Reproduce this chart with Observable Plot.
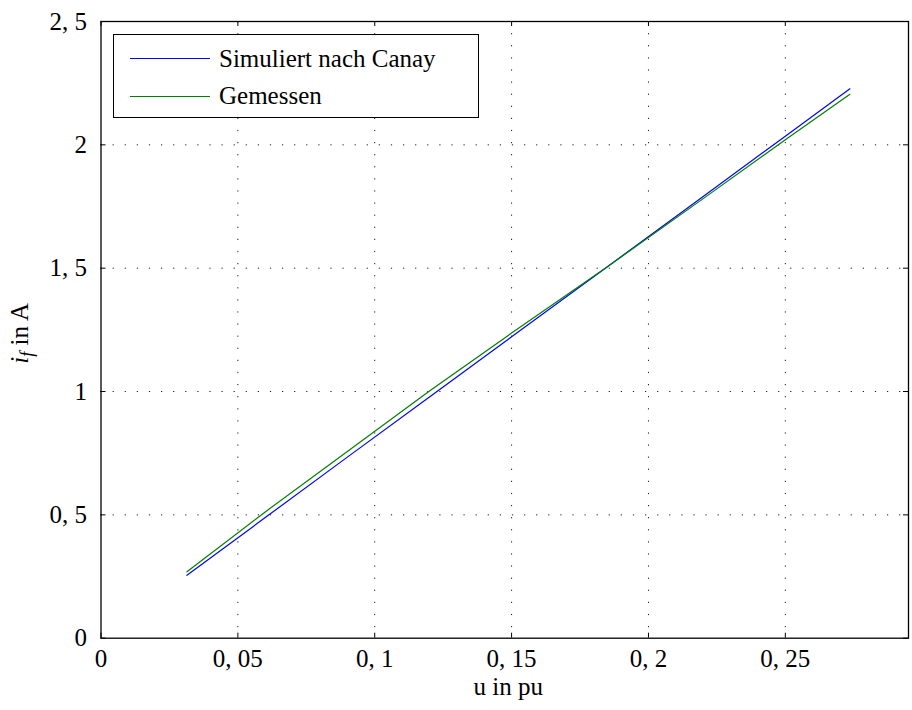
<!DOCTYPE html>
<html>
<head>
<meta charset="utf-8">
<script src="https://cdn.jsdelivr.net/npm/d3@7"></script>
<script src="https://cdn.jsdelivr.net/npm/@observablehq/plot@0.6"></script>
<style>
  body { margin: 0; background: #fff; }
  #wrap { position: relative; width: 912px; height: 710px; }
  #legend { position: absolute; left: 113px; top: 34px; width: 364px; height: 82px;
    border: 1.3px solid #000; background: #fff;
    font-family: "Liberation Serif", "Times New Roman", Tinos, "DejaVu Serif", "Noto Serif", serif; font-size: 25px; color: #000; }
  .row { position: absolute; left: 0; height: 30px; display: flex; align-items: center; white-space: nowrap; }
  .sw { width: 80px; height: 0; margin-left: 16px; margin-right: 9px; }
</style>
</head>
<body>
<div id="wrap"></div>
<script>
// ---- data ----
const uValues = [0.0314, 0.06, 0.09, 0.12, 0.15, 0.185, 0.22, 0.25, 0.2736];
const simuliert = [0.255, 0.489, 0.734, 0.978, 1.222, 1.506, 1.791, 2.035, 2.227];
const gemessen = [0.269, 0.512, 0.757, 1.002, 1.237, 1.506, 1.782, 2.021, 2.205];
const seriesNames = ["Simuliert nach Canay", "Gemessen"];
const seriesColors = ["#0000ff", "#008000"];
const xTicks = [0, 0.05, 0.1, 0.15, 0.2, 0.25];
const xTickLabels = ["0", "0, 05", "0, 1", "0, 15", "0, 2", "0, 25"];
const yTicks = [0, 0.5, 1, 1.5, 2, 2.5];
const yTickLabels = ["0", "0, 5", "1", "1, 5", "2", "2, 5"];
const xLabel = "u in pu";

const rows = uValues.map((u, i) => ({u, sim: simuliert[i], mes: gemessen[i]}));

const W = 912, H = 710, mL = 100.5, mT = 21, mR = 4, mB = 72.3;
const innerW = W - mL - mR, innerH = H - mT - mB;
const font = '"Liberation Serif", "Times New Roman", Tinos, "DejaVu Serif", "Noto Serif", serif';
const dots = {stroke: "#000", strokeOpacity: 0.9, strokeWidth: 1, strokeDasharray: "1.2,10.9"};

const chart = Plot.plot({
  width: W, height: H,
  marginLeft: mL, marginTop: mT, marginRight: mR, marginBottom: mB,
  x: {domain: [0, 0.295]},
  y: {domain: [0, 2.5]},
  style: {fontFamily: font, fontSize: "25px", color: "#000", background: "#fff", overflow: "visible"},
  marks: [
    Plot.gridX(xTicks.slice(1), dots),
    Plot.gridY(yTicks.slice(1, -1), dots),
    Plot.tickX(xTicks, {insetTop: innerH - 5, stroke: "#000"}),
    Plot.tickX(xTicks, {insetBottom: innerH - 5, stroke: "#000"}),
    Plot.tickY(yTicks, {insetRight: innerW - 5, stroke: "#000"}),
    Plot.tickY(yTicks, {insetLeft: innerW - 5, stroke: "#000"}),
    Plot.axisX(xTicks, {tickSize: 0, tickPadding: 11, label: null, fontFamily: font, fontSize: 25,
      tickFormat: d => xTickLabels[xTicks.indexOf(d)]}),
    Plot.axisY(yTicks, {tickSize: 0, tickPadding: 14, label: null, fontFamily: font, fontSize: 25,
      tickFormat: d => yTickLabels[yTicks.indexOf(d)]}),
    Plot.line(rows, {x: "u", y: "sim", stroke: seriesColors[0], strokeWidth: 1.2}),
    Plot.line(rows, {x: "u", y: "mes", stroke: seriesColors[1], strokeWidth: 1.2}),
    Plot.frame({stroke: "#000", strokeWidth: 1.3})
  ]
});

const svg = d3.select(chart);
svg.append("text")
  .attr("x", mL + innerW / 2 + 4).attr("y", 695)
  .attr("text-anchor", "middle").attr("fill", "#000")
  .style("font-family", font).style("font-size", "25px")
  .text(xLabel);

const yl = svg.append("text")
  .attr("transform", `translate(28,${mT + innerH / 2 + 4}) rotate(-90)`)
  .attr("text-anchor", "middle").attr("fill", "#000")
  .style("font-family", font).style("font-size", "25px");
yl.append("tspan").attr("font-style", "italic").text("i");
yl.append("tspan").attr("font-style", "italic").style("font-size", "18px").attr("dy", 5).text("f");
yl.append("tspan").attr("dy", -5).text(" in A");

const wrap = document.getElementById("wrap");
wrap.appendChild(chart);

const legend = document.createElement("div");
legend.id = "legend";
seriesNames.forEach((name, i) => {
  const row = document.createElement("div");
  row.className = "row";
  row.style.top = (i === 0 ? 8.5 : 46) + "px";
  const sw = document.createElement("span");
  sw.className = "sw";
  sw.style.borderTop = `1.3px solid ${seriesColors[i]}`;
  const t = document.createElement("span");
  t.textContent = name;
  row.appendChild(sw); row.appendChild(t);
  legend.appendChild(row);
});
wrap.appendChild(legend);
</script>
</body>
</html>
